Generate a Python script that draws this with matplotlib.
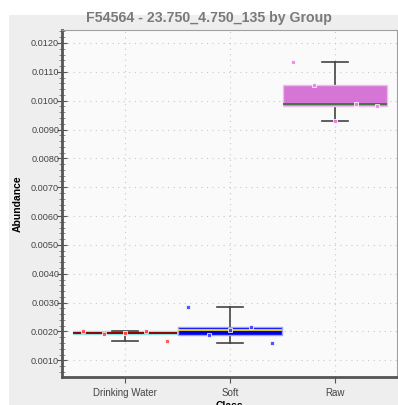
import matplotlib
matplotlib.use("Agg")
import matplotlib.pyplot as plt
import numpy as np
from matplotlib.patches import Rectangle
from matplotlib.ticker import MultipleLocator, FormatStrFormatter

plt.rcParams["font.family"] = ["Liberation Sans", "DejaVu Sans"]

# ── 数据 ──
classes = ["Drinking Water", "Soft", "Raw"]
drinking_water = [0.00201, 0.00190, 0.00193, 0.00200, 0.00167]
soft = [0.00285, 0.00189, 0.00206, 0.00215, 0.00159]
raw = [0.01133, 0.01056, 0.00931, 0.00990, 0.00980]
point_offsets = [-0.4, -0.2, 0.0, 0.2, 0.4]

box_faces = ["#d41e1e", "#0000e6", "#d575d5"]
box_edges = ["#8fe3e3", "#9aa0ff", "#f2b8f2"]
median_colors = ["#8b0000", "#f2e200", "#2f7a2f"]
point_colors = ["#ff4d4d", "#4040ff", "#ee82ee"]

fig = plt.figure(figsize=(3.98, 4.05), dpi=100)
fig.patch.set_facecolor("white")
# 灰色背景面板
fig.patches.append(Rectangle((9 / 398, 0), 1, 1 - 15 / 405,
                             transform=fig.transFigure,
                             facecolor="#eeeeee", edgecolor="none", zorder=-10))

ax = fig.add_axes([62 / 398, 1 - 377 / 405, 335 / 398, 347 / 405])
ax.set_facecolor("#fafafa")

groups = [drinking_water, soft, raw]
positions = np.arange(len(classes))
bp = ax.boxplot(groups, positions=positions, widths=0.99, whis=(0, 100),
                patch_artist=True, showfliers=False, capwidths=0.25,
                manage_ticks=False)

for i, patch in enumerate(bp["boxes"]):
    patch.set_facecolor(box_faces[i])
    patch.set_edgecolor(box_edges[i])
    patch.set_linewidth(1.0)
    patch.set_zorder(2)
for i, med in enumerate(bp["medians"]):
    med.set_color(median_colors[i])
    med.set_linewidth(1.3)
    med.set_zorder(3)
for w in bp["whiskers"]:
    w.set_color("#444444")
    w.set_linewidth(1.2)
    w.set_zorder(1)
for c in bp["caps"]:
    c.set_color("#444444")
    c.set_linewidth(1.2)

# 各样本点
for i, vals in enumerate(groups):
    xs = [positions[i] + o for o in point_offsets]
    ax.scatter(xs, vals, marker="s", s=10, color=point_colors[i],
               edgecolors="#ffffff", linewidths=0.6, alpha=0.9, zorder=4)

ax.set_xlim(-0.6, 2.59)
ax.set_ylim(0.00042, 0.01245)
ax.set_xticks(positions)
ax.set_xticklabels(classes, fontsize=7, color="#444444")
ax.yaxis.set_major_locator(MultipleLocator(0.001))
ax.yaxis.set_minor_locator(MultipleLocator(0.0002))
ax.yaxis.set_major_formatter(FormatStrFormatter("%.4f"))
ax.tick_params(axis="y", which="major", direction="inout", length=7,
               labelsize=6.6, labelcolor="#444444", color="#555555", pad=-1.5)
ax.tick_params(axis="y", which="minor", direction="inout", length=4,
               color="#777777")
ax.tick_params(axis="x", direction="out", length=4, color="#555555", pad=4)

ax.grid(True, linestyle=(0, (1, 4)), color="#c8c8c8", linewidth=0.8)
ax.set_axisbelow(True)

for side in ["left", "bottom"]:
    ax.spines[side].set_color("#555555")
    ax.spines[side].set_linewidth(2)
for side in ["top", "right"]:
    ax.spines[side].set_color("#a0a0a0")
    ax.spines[side].set_linewidth(0.8)

fig.text(209 / 398, 1 - 18 / 405, "F54564 - 23.750_4.750_135 by Group",
         fontsize=10.2, fontweight="bold", color="#7a7a7a",
         ha="center", va="center")
ax.set_ylabel("Abundance", fontsize=7.5, fontweight="bold")
ax.yaxis.set_label_coords(-0.118, 0.5)
ax.set_xlabel("Class", fontsize=7.5, fontweight="bold", labelpad=2)

fig.savefig("out.png", dpi=100)
